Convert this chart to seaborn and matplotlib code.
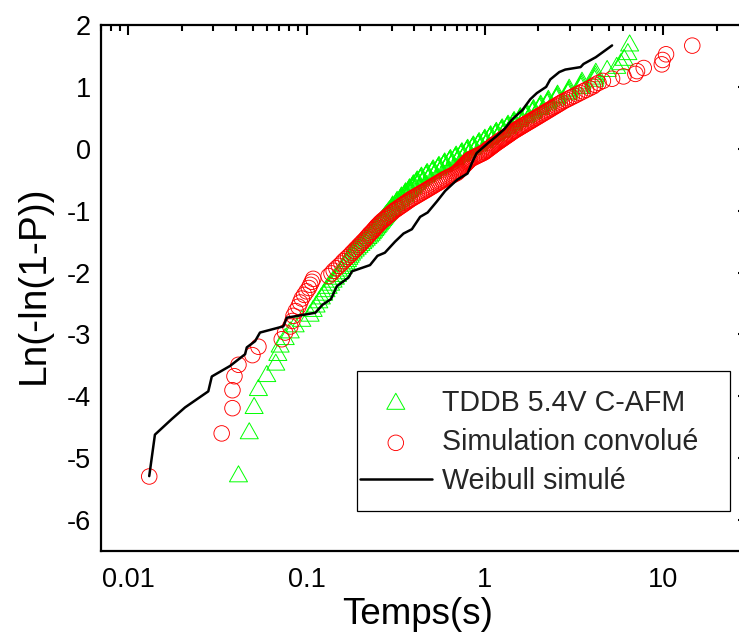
import numpy as np
import matplotlib
matplotlib.use("Agg")
import matplotlib.pyplot as plt
import seaborn as sns
from matplotlib.path import Path
from matplotlib.patches import Rectangle
from matplotlib.ticker import FixedLocator, FixedFormatter, LogLocator, MultipleLocator, NullFormatter

# ---------------- data ----------------
# Weibull plotting positions Ln(-ln(1-P)) shared by both measured series
ln_p = [
    -5.296, -4.600, -4.192, -3.902, -3.676, -3.491, -3.335, -3.199, -3.078, -2.970,
    -2.872, -2.783, -2.700, -2.623, -2.552, -2.484, -2.421, -2.361, -2.304, -2.250,
    -2.199, -2.150, -2.102, -2.057, -2.014, -1.971, -1.931, -1.892, -1.854, -1.817,
    -1.781, -1.747, -1.713, -1.680, -1.648, -1.617, -1.587, -1.557, -1.528, -1.500,
    -1.472, -1.445, -1.419, -1.392, -1.367, -1.342, -1.317, -1.293, -1.269, -1.246,
    -1.223, -1.200, -1.178, -1.156, -1.135, -1.113, -1.092, -1.072, -1.051, -1.031,
    -1.011, -0.991, -0.972, -0.953, -0.934, -0.915, -0.897, -0.878, -0.860, -0.842,
    -0.824, -0.807, -0.789, -0.772, -0.755, -0.738, -0.721, -0.705, -0.688, -0.672,
    -0.656, -0.639, -0.623, -0.608, -0.592, -0.576, -0.561, -0.545, -0.530, -0.514,
    -0.499, -0.484, -0.469, -0.454, -0.440, -0.425, -0.410, -0.396, -0.381, -0.367,
    -0.352, -0.338, -0.324, -0.309, -0.295, -0.281, -0.267, -0.253, -0.239, -0.225,
    -0.211, -0.197, -0.184, -0.170, -0.156, -0.142, -0.129, -0.115, -0.101, -0.087,
    -0.074, -0.060, -0.047, -0.033, -0.019, -0.006, 0.008, 0.021, 0.035, 0.049,
    0.062, 0.076, 0.090, 0.103, 0.117, 0.131, 0.144, 0.158, 0.172, 0.186,
    0.200, 0.213, 0.227, 0.241, 0.255, 0.270, 0.284, 0.298, 0.312, 0.327,
    0.341, 0.356, 0.370, 0.385, 0.400, 0.415, 0.430, 0.445, 0.460, 0.476,
    0.492, 0.507, 0.523, 0.539, 0.556, 0.572, 0.589, 0.606, 0.623, 0.640,
    0.658, 0.676, 0.694, 0.713, 0.732, 0.752, 0.772, 0.792, 0.813, 0.834,
    0.856, 0.879, 0.902, 0.927, 0.952, 0.978, 1.006, 1.034, 1.065, 1.097,
    1.132, 1.169, 1.210, 1.255, 1.305, 1.364, 1.435, 1.527, 1.667,
]

# TDDB 5.4V C-AFM breakdown times (s)
tddb_t = [
    0.0415, 0.0477, 0.0508, 0.0537, 0.0598, 0.0672, 0.0690, 0.0711, 0.0759, 0.0810,
    0.0863, 0.0941, 0.1047, 0.1089, 0.1131, 0.1171, 0.1210, 0.1248, 0.1285, 0.1321,
    0.1365, 0.1408, 0.1451, 0.1493, 0.1536, 0.1571, 0.1603, 0.1635, 0.1666, 0.1697,
    0.1727, 0.1757, 0.1787, 0.1827, 0.1875, 0.1923, 0.1970, 0.2018, 0.2066, 0.2113,
    0.2161, 0.2209, 0.2257, 0.2302, 0.2339, 0.2377, 0.2414, 0.2451, 0.2489, 0.2526,
    0.2563, 0.2600, 0.2636, 0.2673, 0.2709, 0.2746, 0.2782, 0.2818, 0.2855, 0.2891,
    0.2927, 0.2998, 0.3013, 0.3028, 0.3043, 0.3175, 0.3191, 0.3207, 0.3223, 0.3357,
    0.3374, 0.3391, 0.3408, 0.3541, 0.3559, 0.3577, 0.3595, 0.3729, 0.3748, 0.3767,
    0.3786, 0.3919, 0.3939, 0.3959, 0.3979, 0.4114, 0.4135, 0.4156, 0.4177, 0.4346,
    0.4368, 0.4390, 0.4412, 0.4679, 0.4702, 0.4726, 0.4750, 0.5054, 0.5079, 0.5105,
    0.5131, 0.5450, 0.5477, 0.5505, 0.5533, 0.5871, 0.5900, 0.5930, 0.5960, 0.6319,
    0.6351, 0.6383, 0.6415, 0.6807, 0.6842, 0.6876, 0.6910, 0.7334, 0.7371, 0.7408,
    0.7445, 0.7897, 0.7937, 0.7977, 0.8017, 0.8504, 0.8547, 0.8590, 0.8633, 0.9158,
    0.9205, 0.9251, 0.9297, 0.9866, 0.9916, 0.9966, 1.0016, 1.0627, 1.0680, 1.0734,
    1.0788, 1.1440, 1.1498, 1.1556, 1.1614, 1.2330, 1.2393, 1.2455, 1.2517, 1.3310,
    1.3377, 1.3444, 1.3511, 1.4393, 1.4465, 1.4538, 1.4611, 1.5601, 1.5680, 1.5759,
    1.5838, 1.6959, 1.7044, 1.7130, 1.7216, 1.8503, 1.8597, 1.8690, 1.8783, 2.0291,
    2.0394, 2.0496, 2.0598, 2.2404, 2.2517, 2.2630, 2.2743, 2.5218, 2.5346, 2.5473,
    2.5600, 2.9322, 2.9470, 2.9618, 2.9766, 3.460, 3.477, 3.495, 3.512, 4.134,
    4.155, 4.176, 4.197, 4.86, 5.5, 5.8, 6.05, 6.35, 6.5,
]

# Simulation convolue times (s)
sim_t = [
    0.0131, 0.0334, 0.0384, 0.0384, 0.0394, 0.0415, 0.0497, 0.0537, 0.0726, 0.0758,
    0.0810, 0.0833, 0.0845, 0.0870, 0.0900, 0.0920, 0.0940, 0.0970, 0.1000, 0.1030,
    0.1050, 0.1070, 0.1090, 0.133, 0.138, 0.142, 0.147, 0.152, 0.157, 0.161,
    0.166, 0.171, 0.176, 0.180, 0.185, 0.189, 0.194, 0.198, 0.203, 0.207,
    0.212, 0.216, 0.220, 0.224, 0.228, 0.233, 0.237, 0.241, 0.245, 0.249,
    0.254, 0.258, 0.263, 0.268, 0.274, 0.279, 0.285, 0.290, 0.296, 0.302,
    0.307, 0.314, 0.321, 0.328, 0.335, 0.343, 0.350, 0.358, 0.365, 0.373,
    0.380, 0.389, 0.398, 0.408, 0.417, 0.427, 0.437, 0.446, 0.457, 0.467,
    0.477, 0.488, 0.498, 0.509, 0.519, 0.530, 0.542, 0.553, 0.564, 0.576,
    0.588, 0.602, 0.617, 0.631, 0.646, 0.661, 0.676, 0.692, 0.703, 0.711,
    0.719, 0.727, 0.736, 0.744, 0.752, 0.760, 0.769, 0.777, 0.786, 0.794,
    0.803, 0.812, 0.821, 0.829, 0.848, 0.867, 0.886, 0.906, 0.927, 0.948,
    0.970, 0.990, 1.004, 1.019, 1.033, 1.048, 1.064, 1.079, 1.095, 1.111,
    1.127, 1.143, 1.160, 1.179, 1.198, 1.217, 1.236, 1.256, 1.276, 1.296,
    1.318, 1.339, 1.360, 1.382, 1.405, 1.428, 1.451, 1.479, 1.508, 1.537,
    1.567, 1.598, 1.629, 1.662, 1.695, 1.729, 1.764, 1.801, 1.838, 1.876,
    1.916, 1.957, 1.999, 2.042, 2.087, 2.134, 2.182, 2.232, 2.282, 2.335,
    2.391, 2.449, 2.509, 2.572, 2.638, 2.707, 2.781, 2.872, 2.969, 3.072,
    3.182, 3.298, 3.422, 3.558, 3.707, 3.867, 4.043, 4.15, 4.35, 4.60,
    5.18, 6.0, 7.0, 7.15, 7.8, 9.85, 9.95, 10.4, 14.6,
]

# Weibull simule (polyline)
weib_t = [0.0131, 0.0141, 0.0175, 0.0208, 0.0281, 0.0294, 0.0372, 0.0452, 0.0462, 0.0514,
          0.0548, 0.0741, 0.0775, 0.112, 0.123, 0.137, 0.148, 0.172, 0.180, 0.227,
          0.250, 0.275, 0.314, 0.350, 0.390, 0.434, 0.478, 0.539, 0.60, 0.70,
          0.80, 0.85, 0.90, 1.05, 1.16, 1.29, 1.43, 1.62, 1.80, 1.96,
          2.21, 2.33, 2.62, 2.83, 3.45, 3.58, 4.2, 5.18]
weib_v = [-5.29, -4.62, -4.37, -4.18, -3.92, -3.68, -3.51, -3.32, -3.21, -3.11,
          -2.97, -2.87, -2.73, -2.65, -2.52, -2.43, -2.22, -2.08, -1.98, -1.88,
          -1.73, -1.68, -1.50, -1.37, -1.30, -1.10, -1.03, -0.85, -0.68, -0.50,
          -0.40, -0.22, -0.07, 0.10, 0.20, 0.32, 0.48, 0.62, 0.80, 0.90,
          1.00, 1.12, 1.24, 1.28, 1.32, 1.37, 1.48, 1.67]

series_labels = ["TDDB 5.4V C-AFM", "Simulation convolué", "Weibull simulé"]
x_ticks = [0.01, 0.1, 1, 10]
x_tick_labels = ["0.01", "0.1", "1", "10"]
y_ticks = [-6, -5, -4, -3, -2, -1, 0, 1, 2]
y_tick_labels = ["-6", "-5", "-4", "-3", "-2", "-1", "0", "1", "2"]

# ---------------- style ----------------
sns.set_style("white")
plt.rcParams["font.family"] = ["Liberation Sans", "DejaVu Sans"]
plt.rcParams["axes.unicode_minus"] = False

fig = plt.figure(figsize=(7.39, 6.43), dpi=100)
ax = fig.add_axes([0.1363, 0.1431, 0.8759, 0.8180])

# triangle marker with its centroid at the data point
tri = Path([(0, 10.67), (-9, -5.33), (9, -5.33), (0, 10.67)], closed=True)

sns.scatterplot(x=tddb_t, y=ln_p, marker=tri, s=237, facecolor="none",
                edgecolor="#00ff00", linewidth=0.7, ax=ax, label=series_labels[0], zorder=2)
sns.scatterplot(x=sim_t, y=ln_p, marker="o", s=125, facecolor="none",
                edgecolor="#ff0000", linewidth=0.65, ax=ax, label=series_labels[1], zorder=3)
sns.lineplot(x=weib_t, y=weib_v, color="black", linewidth=1.8, sort=False,
             estimator=None, ax=ax, label=series_labels[2], zorder=4)

ax.set_xscale("log")
ax.set_xlim(0.007, 30)
ax.set_ylim(-6.5, 2)

ax.xaxis.set_major_locator(FixedLocator(x_ticks))
ax.xaxis.set_major_formatter(FixedFormatter(x_tick_labels))
ax.xaxis.set_minor_locator(LogLocator(base=10, subs=np.arange(2, 10)))
ax.xaxis.set_minor_formatter(NullFormatter())
ax.yaxis.set_major_locator(FixedLocator(y_ticks))
ax.yaxis.set_major_formatter(FixedFormatter(y_tick_labels))
ax.yaxis.set_minor_locator(MultipleLocator(0.5))

ax.tick_params(which="both", direction="in", top=True, right=True,
               width=1.5, color="black", labelcolor="black")
ax.tick_params(which="major", length=7.2, labelsize=19.5)
ax.tick_params(which="minor", length=4)
ax.tick_params(axis="x", which="major", pad=11.5)
ax.tick_params(axis="y", which="major", pad=7.2)

for sp in ax.spines.values():
    sp.set_visible(True)
    sp.set_linewidth(1.6)
    sp.set_color("black")

ax.set_xlabel("Temps(s)", fontsize=26.5, color="black")
ax.xaxis.set_label_coords(0.4894, -0.0875)
ax.set_ylabel("Ln(-ln(1-P))", fontsize=28, color="black")
ax.yaxis.set_label_coords(-0.0757, 0.5057)

handles, labels = ax.get_legend_handles_labels()
ax.legend(handles, labels, loc="upper left", bbox_to_anchor=(0.4006, 0.3071),
          frameon=False, borderpad=0, borderaxespad=0, fontsize=20.6,
          handlelength=2.5, handletextpad=0.35, labelspacing=0.38, scatterpoints=1)
ax.add_patch(Rectangle((0.396, 0.076), 0.5762, 0.2662, transform=ax.transAxes,
                       fill=False, edgecolor="black", linewidth=0.9, zorder=5))

fig.savefig("out.png", dpi=100)
